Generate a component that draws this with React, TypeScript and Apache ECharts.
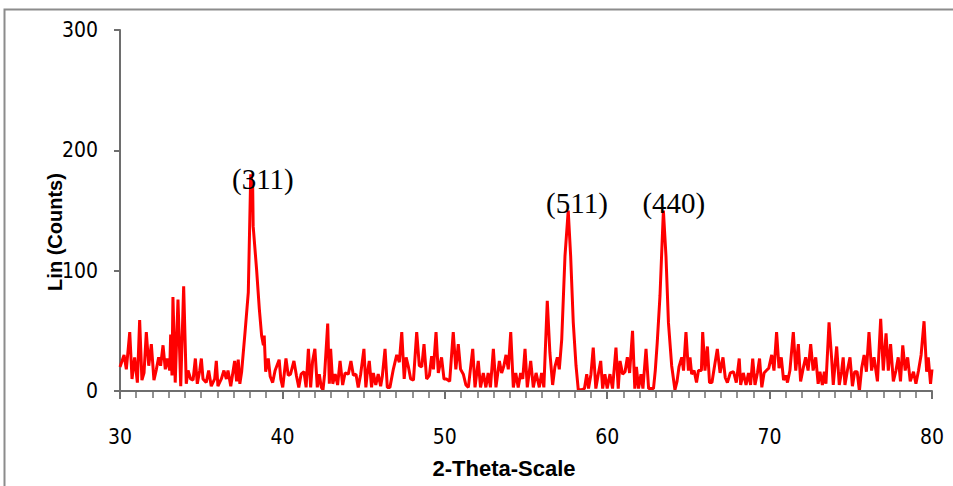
import React, { useEffect, useRef } from "react";
import * as echarts from "echarts";

// [2-theta, counts]
const scan30to40: [number, number][] = [
  [30.0, 20], [30.25, 30], [30.39, 18], [30.6, 49], [30.74, 10], [30.9, 28], [31.07, 7], [31.21, 59],
  [31.35, 9], [31.48, 15], [31.62, 49], [31.77, 21], [31.93, 39], [32.09, 9], [32.24, 18], [32.38, 28],
  [32.5, 21], [32.65, 38], [32.79, 18], [32.91, 27], [33.06, 17], [33.12, 47], [33.2, 13], [33.26, 78],
  [33.4, 7], [33.57, 76], [33.74, 4], [33.92, 87], [34.08, 6], [34.19, 17], [34.35, 10], [34.5, 9],
  [34.64, 27], [34.76, 6], [34.91, 17], [35.01, 27], [35.11, 10], [35.31, 7], [35.46, 17], [35.62, 4],
  [35.83, 10], [35.93, 25], [36.03, 4], [36.24, 10], [36.4, 17], [36.55, 10], [36.65, 17], [36.82, 4],
  [37.06, 25], [37.18, 8], [37.28, 26], [37.38, 6], [37.49, 16], [37.7, 49], [37.9, 82], [38.05, 180],
  [38.17, 170], [38.2, 137], [38.41, 101], [38.58, 68], [38.72, 46], [38.83, 38], [38.88, 46], [38.97, 16],
  [39.13, 27], [39.25, 12], [39.4, 7], [39.55, 17], [39.8, 26], [39.9, 10],
];
const scan40to50: [number, number][] = [
  [40.02, 3], [40.22, 27], [40.36, 13], [40.5, 14], [40.71, 25], [40.86, 13], [41.01, 3], [41.15, 14],
  [41.33, 16], [41.46, 3], [41.6, 35], [41.74, 3], [41.86, 25], [42.0, 35], [42.15, 3], [42.27, 14],
  [42.4, 3], [42.5, 1], [42.6, 14], [42.79, 56], [42.89, 6], [42.97, 35], [43.1, 6], [43.25, 14],
  [43.4, 5], [43.55, 25], [43.71, 5], [43.86, 15], [44.06, 14], [44.22, 25], [44.37, 13], [44.53, 14],
  [44.67, 3], [44.82, 14], [45.02, 35], [45.14, 3], [45.22, 14], [45.35, 25], [45.49, 3], [45.6, 15],
  [45.75, 5], [45.9, 14], [46.05, 4], [46.15, 12], [46.32, 35], [46.46, 3], [46.62, 3], [46.83, 18],
  [47.04, 30], [47.2, 24], [47.35, 49], [47.5, 10], [47.62, 28], [47.76, 20], [47.9, 10], [48.07, 9],
  [48.27, 49], [48.43, 21], [48.58, 20], [48.72, 39], [48.88, 10], [49.05, 13], [49.19, 29], [49.3, 18],
  [49.46, 49], [49.6, 15], [49.8, 28], [49.95, 10],
];
const scan50to60: [number, number][] = [
  [50.1, 10], [50.3, 8], [50.52, 49], [50.68, 18], [50.83, 39], [50.97, 18], [51.14, 14], [51.3, 5],
  [51.45, 3], [51.72, 35], [51.86, 3], [52.06, 25], [52.2, 3], [52.37, 15], [52.53, 3], [52.67, 15],
  [52.81, 3], [52.99, 35], [53.15, 3], [53.36, 25], [53.5, 15], [53.64, 21], [53.77, 30], [53.91, 18],
  [54.06, 49], [54.22, 3], [54.37, 15], [54.52, 3], [54.67, 15], [54.8, 10], [54.94, 35], [55.08, 3],
  [55.29, 25], [55.45, 3], [55.62, 15], [55.82, 3], [55.96, 15], [56.1, 3], [56.31, 75], [56.47, 32],
  [56.64, 5], [56.78, 20], [56.93, 28], [57.05, 18], [57.2, 43], [57.4, 112], [57.6, 150], [57.75, 112],
  [57.91, 57], [58.08, 21], [58.22, 1], [58.4, 1], [58.6, 2], [58.74, 14], [58.85, 2], [59.0, 14],
  [59.14, 36], [59.3, 2], [59.45, 14], [59.6, 25], [59.72, 2], [59.86, 14],
];
const scan60to70: [number, number][] = [
  [60.0, 2], [60.17, 14], [60.33, 2], [60.54, 36], [60.68, 2], [60.79, 25], [60.95, 14], [61.1, 16],
  [61.24, 28], [61.38, 15], [61.56, 50], [61.7, 2], [61.8, 20], [61.93, 2], [62.08, 14], [62.2, 2],
  [62.39, 35], [62.55, 2], [62.7, 2], [62.85, 2], [62.96, 17], [63.08, 40], [63.25, 79], [63.46, 150],
  [63.62, 112], [63.77, 57], [63.97, 21], [64.17, 1], [64.3, 8], [64.42, 20], [64.59, 28], [64.7, 17],
  [64.85, 49], [65.0, 17], [65.1, 28], [65.2, 14], [65.35, 17], [65.5, 7], [65.62, 17], [65.8, 17],
  [65.88, 49], [66.02, 17], [66.17, 37], [66.3, 7], [66.45, 7], [66.6, 20], [66.78, 35], [66.95, 15],
  [67.13, 28], [67.27, 11], [67.4, 7], [67.58, 15], [67.78, 16], [67.95, 7], [68.13, 27], [68.22, 5],
  [68.38, 15], [68.55, 5], [68.7, 15], [68.83, 5], [68.96, 27], [69.1, 5], [69.25, 15], [69.38, 27],
  [69.52, 3], [69.66, 15], [69.8, 17], [69.95, 19],
];
const scan70to80: [number, number][] = [
  [70.13, 30], [70.27, 17], [70.43, 49], [70.58, 19], [70.72, 28], [70.86, 9], [71.0, 13], [71.1, 7],
  [71.25, 17], [71.46, 49], [71.61, 17], [71.77, 39], [71.91, 8], [72.07, 19], [72.22, 28], [72.37, 17],
  [72.53, 39], [72.68, 17], [72.84, 28], [72.99, 6], [73.1, 16], [73.25, 5], [73.37, 16], [73.47, 6],
  [73.66, 57], [73.82, 27], [73.92, 5], [74.13, 37], [74.29, 5], [74.43, 16], [74.53, 28], [74.64, 5],
  [74.79, 17], [74.95, 28], [75.1, 4], [75.24, 16], [75.39, 16], [75.53, 0], [75.67, 19], [75.82, 30],
  [75.96, 16], [76.12, 49], [76.28, 17], [76.43, 28], [76.64, 8], [76.84, 60], [77.0, 17], [77.17, 48],
  [77.31, 17], [77.45, 39], [77.62, 8], [77.78, 17], [77.92, 28], [78.06, 8], [78.2, 38], [78.35, 17],
  [78.5, 28], [78.66, 8], [78.86, 16], [79.01, 6], [79.17, 17], [79.33, 30], [79.51, 58], [79.67, 16],
  [79.77, 28], [79.91, 6], [80.0, 18],
];

const peakLabels = ["(311)", "(511)", "(440)"];
const peakLabelTheta = [38.8, 58.14, 64.1];
const peakLabelCounts = [176, 156, 156];

const xTicks = [30, 40, 50, 60, 70, 80];
const yTicks = [0, 100, 200, 300];

const condensedCss = `text[style*="DejaVu Sans"] { font-stretch: condensed !important; }`;

export default function App() {
  const ref = useRef<HTMLDivElement>(null);
  useEffect(() => {
    if (!ref.current) return;
    const chart = echarts.init(ref.current, null, { renderer: "svg" });
    const data = [...scan30to40, ...scan40to50, ...scan50to60, ...scan60to70, ...scan70to80];
    const axisGray = "#6e6e6e";
    const tickFont = "'DejaVu Sans', sans-serif";
    chart.setOption({
      animation: false,
      backgroundColor: "#ffffff",
      grid: { left: 120, right: 21, top: 30, bottom: 95, containLabel: false },
      xAxis: {
        type: "value",
        z: 10,
        min: xTicks[0],
        max: xTicks[xTicks.length - 1],
        interval: 10,
        axisLine: { show: true, onZero: false, lineStyle: { color: axisGray, width: 2 } },
        axisTick: { show: true, inside: false, length: 8, lineStyle: { color: axisGray, width: 2 } },
        minorTick: { show: true, splitNumber: 10, length: 7, lineStyle: { color: axisGray, width: 1.5 } },
        splitLine: { show: false },
        axisLabel: { margin: 35, fontSize: 21, color: "#000", fontFamily: tickFont },
      },
      yAxis: {
        type: "value",
        min: yTicks[0],
        max: yTicks[yTicks.length - 1],
        interval: 100,
        axisLine: { show: true, onZero: false, lineStyle: { color: axisGray, width: 2 } },
        axisTick: { show: true, length: 6, lineStyle: { color: axisGray, width: 2 } },
        splitLine: { show: false },
        axisLabel: { margin: 22, fontSize: 21, color: "#000", fontFamily: tickFont },
      },
      graphic: [
        {
          type: "rect",
          shape: { x: 4.5, y: 9.5, width: 1000, height: 600 },
          style: { fill: "none", stroke: "#8c8c8c", lineWidth: 2 },
          silent: true,
          z: -1,
        },
        {
          type: "text",
          x: 504,
          y: 468,
          style: {
            text: "2-Theta-Scale",
            fontSize: 22,
            fontWeight: "bold",
            fontFamily: "'Liberation Sans', sans-serif",
            fill: "#000",
            align: "center",
            verticalAlign: "middle",
          },
        },
        {
          type: "text",
          x: 55,
          y: 232,
          rotation: Math.PI / 2,
          style: {
            text: "Lin (Counts)",
            fontSize: 20,
            fontWeight: "bold",
            fontFamily: "'Liberation Sans', sans-serif",
            fill: "#000",
            align: "center",
            verticalAlign: "middle",
          },
        },
      ],
      series: [
        {
          type: "line",
          data,
          showSymbol: false,
          smooth: false,
          lineStyle: { color: "#ff0000", width: 3 },
          itemStyle: { color: "#ff0000" },
          markPoint: {
            symbol: "circle",
            symbolSize: 0,
            silent: true,
            label: {
              show: true,
              position: "inside",
              color: "#000",
              fontSize: 29,
              fontFamily: "'Liberation Serif', serif",
              formatter: (p: any) => p.name,
            },
            data: peakLabels.map((name, i) => ({
              name,
              coord: [peakLabelTheta[i], peakLabelCounts[i]],
            })),
          },
        },
      ],
    });
    return () => chart.dispose();
  }, []);
  return (
    <>
      <style>{condensedCss}</style>
      <div
        ref={ref}
        style={{ position: "fixed", left: 0, top: 0, width: 953, height: 486, background: "#fff" }}
      />
    </>
  );
}
